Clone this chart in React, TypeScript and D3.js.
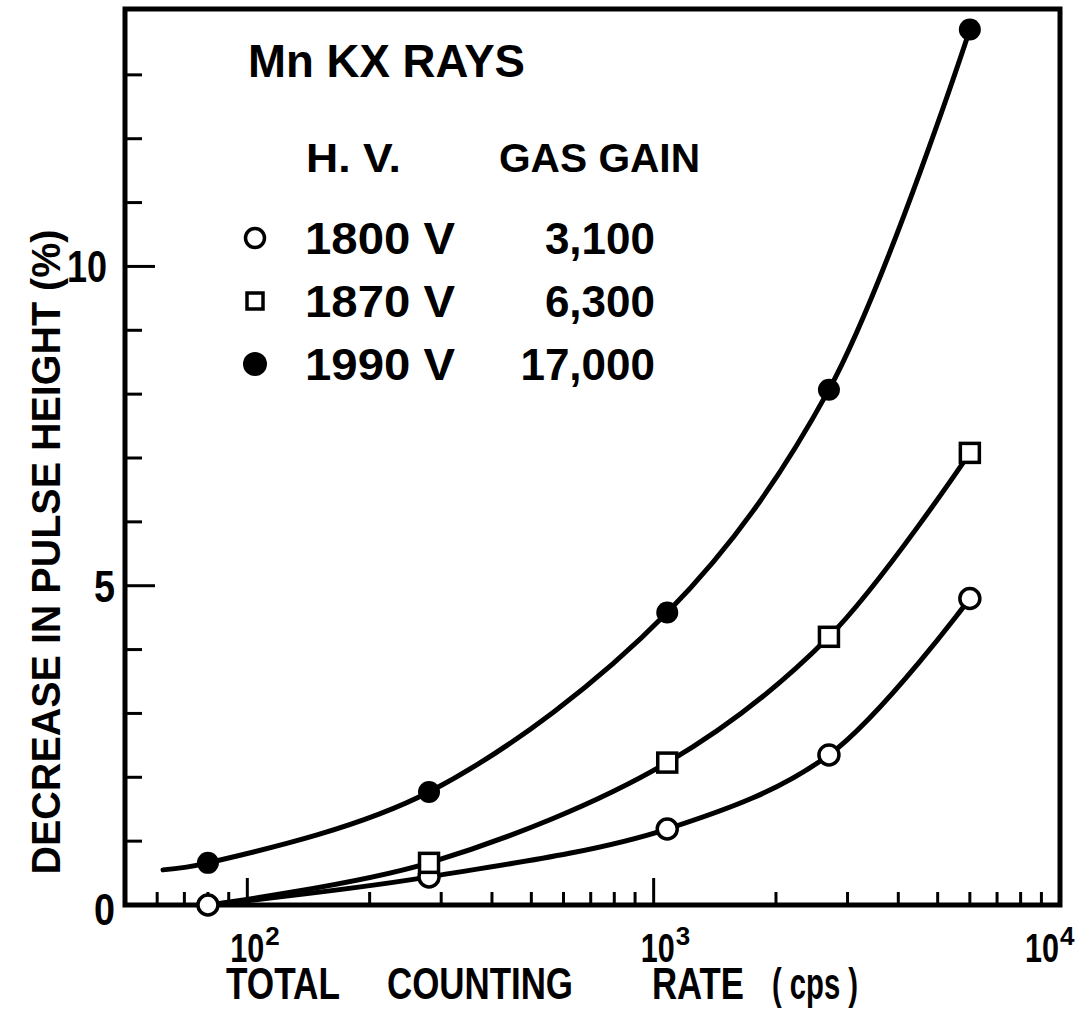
import React from "react";
import * as d3 from "d3";

// ---- data ----
const rates = [80, 280, 1080, 2700, 6000]; // cps
const series1800 = [0.0, 0.44, 1.19, 2.35, 4.8];
const series1870 = [null, 0.66, 2.23, 4.2, 7.08];
const series1990 = [0.66, 1.77, 4.58, 8.07, 13.71];
// curve knots that lie outside the marker positions
const curve1990Start = { rate: 62, value: 0.55 };
const curve1870Start = { rate: 80, value: 0.0 };

const yTicks = [1, 2, 3, 4, 5, 6, 7, 8, 9, 10, 11, 12, 13];
const yMajor = [5, 10];
const yLabels = [0, 5, 10];
const xMajor = [100, 1000];
const xMinor = [60, 70, 80, 90, 200, 300, 400, 500, 600, 700, 800, 900, 2000, 3000, 4000, 5000, 6000, 7000, 8000, 9000];
const xLabels = [
  { v: 100, base: "10", exp: "2", dx: 0 },
  { v: 1000, base: "10", exp: "3", dx: 4 },
  { v: 10000, base: "10", exp: "4", dx: -18 },
];
const legendHV = ["1800 V", "1870 V", "1990 V"];
const legendGain = ["3,100", "6,300", "17,000"];
const legendSym = ["open-circle", "open-square", "filled-circle"];

const W = 1090;
const H = 1009;
const FONT = "'Liberation Sans', Arial, Helvetica, sans-serif";

export default function App() {
  const x = d3.scaleLog().domain([50, 10000]).range([125, 1060]);
  const y = d3.scaleLinear().domain([0, 14]).range([905, 11]);

  const line = d3
    .line<[number, number]>()
    .x((d) => x(d[0]))
    .y((d) => y(d[1]))
    .curve(d3.curveCatmullRom.alpha(0.5));

  const pts = (vals: (number | null)[]) =>
    rates.map((r, i) => [r, vals[i]] as [number, number | null]).filter((d) => d[1] !== null) as [number, number][];

  const c1800 = pts(series1800);
  const c1870: [number, number][] = [[curve1870Start.rate, curve1870Start.value], ...pts(series1870)];
  const c1990: [number, number][] = [[curve1990Start.rate, curve1990Start.value], ...pts(series1990)];

  const x0 = x.range()[0];
  const x1 = x.range()[1];
  const yb = y(0);
  const yt = 9;

  const legendRowY = (i: number) => 238 + i * 63;

  return (
    <svg width={W} height={H} style={{ position: "absolute", left: 0, top: 0, background: "#fff" }} fontFamily={FONT}>
      <rect width={W} height={H} fill="#fff" />
      {/* curves */}
      {[c1800, c1870, c1990].map((c, i) => (
        <path key={i} d={line(c) || ""} fill="none" stroke="#000" strokeWidth={5} strokeLinecap="round" />
      ))}
      {/* frame */}
      <rect x={x0} y={yt} width={x1 - x0} height={yb - yt} fill="none" stroke="#000" strokeWidth={5} />
      {/* y ticks */}
      {yTicks.map((t) => (
        <line key={t} x1={x0} x2={x0 + (yMajor.includes(t) ? 30 : 17)} y1={y(t)} y2={y(t)} stroke="#000" strokeWidth={3} />
      ))}
      {/* x ticks */}
      {xMajor.map((t) => (
        <line key={t} x1={x(t)} x2={x(t)} y1={yb} y2={yb - 27} stroke="#000" strokeWidth={3} />
      ))}
      {xMinor.map((t) => (
        <line key={t} x1={x(t)} x2={x(t)} y1={yb} y2={yb - 13} stroke="#000" strokeWidth={3} />
      ))}
      {/* y labels */}
      {yLabels.map((t) => (
        <text
          key={t}
          x={t === 10 ? 107 : 115}
          y={y(t) + 16 + (t === 0 ? 4 : 0)}
          textAnchor="end"
          fontSize={44}
          fontWeight="bold"
          textLength={t === 10 ? 40 : 21}
          lengthAdjust="spacingAndGlyphs"
        >
          {t}
        </text>
      ))}
      {/* x labels */}
      {xLabels.map((l) => (
        <g key={l.v}>
          <text
            x={x(l.v) + l.dx - 17}
            y={962}
            fontSize={40}
            fontWeight="bold"
            textLength={34}
            lengthAdjust="spacingAndGlyphs"
          >
            {l.base}
          </text>
          <text x={x(l.v) + l.dx + 18} y={945} fontSize={26} fontWeight="bold">
            {l.exp}
          </text>
        </g>
      ))}
      {/* axis titles */}
      <text x={226} y={999} fontSize={44} fontWeight="bold" textLength={114} lengthAdjust="spacingAndGlyphs">TOTAL</text>
      <text x={387} y={999} fontSize={44} fontWeight="bold" textLength={186} lengthAdjust="spacingAndGlyphs">COUNTING</text>
      <text x={652} y={999} fontSize={44} fontWeight="bold" textLength={92} lengthAdjust="spacingAndGlyphs">RATE</text>
      <text x={772} y={999} fontSize={44} fontWeight="bold" textLength={86} lengthAdjust="spacingAndGlyphs">( cps )</text>
      <text
        transform="translate(60,552) rotate(-90)"
        textAnchor="middle"
        fontSize={40}
        fontWeight="bold"
        textLength={645}
        lengthAdjust="spacingAndGlyphs"
      >
        DECREASE IN PULSE HEIGHT (%)
      </text>
      {/* legend */}
      <text x={248} y={77} fontSize={46} fontWeight="bold" textLength={277} lengthAdjust="spacingAndGlyphs">Mn KX RAYS</text>
      <text x={306} y={172} fontSize={40} fontWeight="bold" textLength={95} lengthAdjust="spacingAndGlyphs">H. V.</text>
      <text x={499} y={172} fontSize={40} fontWeight="bold" textLength={201} lengthAdjust="spacingAndGlyphs">GAS GAIN</text>
      {legendHV.map((s, i) => (
        <g key={s}>
          {legendSym[i] === "open-circle" && (
            <circle cx={255} cy={legendRowY(i)} r={9.5} fill="#fff" stroke="#000" strokeWidth={3.5} />
          )}
          {legendSym[i] === "open-square" && (
            <rect x={247} y={legendRowY(i) - 8} width={16} height={16} fill="#fff" stroke="#000" strokeWidth={3.5} />
          )}
          {legendSym[i] === "filled-circle" && <circle cx={255} cy={legendRowY(i)} r={12} fill="#000" />}
          <text x={305} y={legendRowY(i) + 16} fontSize={44} fontWeight="bold" textLength={150} lengthAdjust="spacingAndGlyphs">
            {s}
          </text>
          <text x={655} y={legendRowY(i) + 16} fontSize={44} fontWeight="bold" textAnchor="end">
            {legendGain[i]}
          </text>
        </g>
      ))}
      {/* markers */}
      {pts(series1800).map((d, i) => (
        <circle key={"o" + i} cx={x(d[0])} cy={y(d[1])} r={10} fill="#fff" stroke="#000" strokeWidth={3.5} />
      ))}
      {pts(series1870).map((d, i) => (
        <rect key={"s" + i} x={x(d[0]) - 9.5} y={y(d[1]) - 9.5} width={19} height={19} fill="#fff" stroke="#000" strokeWidth={3.5} />
      ))}
      {pts(series1990).map((d, i) => (
        <circle key={"f" + i} cx={x(d[0])} cy={y(d[1])} r={11} fill="#000" />
      ))}
    </svg>
  );
}
